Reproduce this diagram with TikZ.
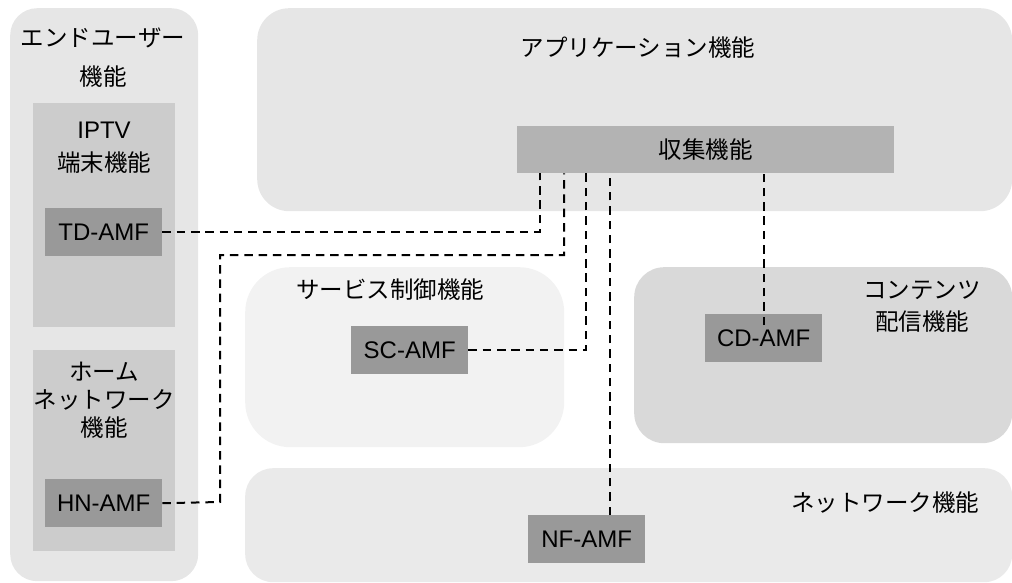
\documentclass[tikz,border=0pt]{standalone}
\usepackage{fontspec}
\setmainfont{Liberation Sans}
\newfontfamily\jp{Noto Sans CJK JP}
\definecolor{outergray}{HTML}{E6E6E6}
\definecolor{innergray}{HTML}{CCCCCC}
\definecolor{collectgray}{HTML}{B3B3B3}
\definecolor{amfgray}{HTML}{999999}
\definecolor{svcgray}{HTML}{F2F2F2}
\definecolor{cdngray}{HTML}{D9D9D9}
\definecolor{netgray}{HTML}{EAEAEA}
\tikzset{
  region/.style={draw=none, anchor=north west, inner sep=0pt},
  inner/.style={draw=none, anchor=north west, inner sep=0pt, fill=innergray},
  amf/.style={fill=amfgray, anchor=north west, inner sep=0pt, minimum width=117pt, minimum height=48pt, font=\fontsize{24}{28}\selectfont},
  lbl/.style={font=\jp\fontsize{23.5}{28}\selectfont, inner sep=0pt},
  lbllat/.style={font=\fontsize{24}{28}\selectfont, inner sep=0pt},
  link/.style={draw=black, line width=2pt, dash pattern=on 8.5pt off 5.8pt}
}
\begin{document}
\begin{tikzpicture}[x=1pt,y=-1pt]
\useasboundingbox (0,0) rectangle (1012,583);
% regions
\node[region, fill=outergray, rounded corners=27pt, minimum width=188pt, minimum height=573pt] (enduser) at (10,8) {};
\node[region, fill=outergray, rounded corners=32pt, minimum width=755pt, minimum height=203pt] (app) at (257,8) {};
\node[region, fill=svcgray, rounded corners=45pt, minimum width=319pt, minimum height=180pt] (svc) at (245,267) {};
\node[region, fill=cdngray, rounded corners=30pt, minimum width=378pt, minimum height=176pt] (cdn) at (634,267) {};
\node[region, fill=netgray, rounded corners=28pt, minimum width=767pt, minimum height=114pt] (net) at (245,468) {};
% inner boxes
\node[inner, minimum width=142pt, minimum height=224pt] (iptv) at (33,103) {};
\node[inner, minimum width=142pt, minimum height=201pt] (home) at (33,350) {};
\node[region, fill=collectgray, minimum width=377pt, minimum height=47pt, font=\jp\fontsize{23.5}{28}\selectfont] (collect) at (517,126) {収集機能};
% labels
\node[lbl] (eu1) at (103,38) {エンドユーザー};
\node[lbl] (eu2) at (103,77) {機能};
\node[lbllat] (ip1) at (104,130) {IPTV};
\node[lbl] (ip2) at (104,163) {端末機能};
\node[lbl] (hm1) at (104,372) {ホーム};
\node[lbl] (hm2) at (104,400) {ネットワーク};
\node[lbl] (hm3) at (104,428) {機能};
\node[lbl] (applbl) at (638,48) {アプリケーション機能};
\node[lbl] (svclbl) at (390,290) {サービス制御機能};
\node[lbl] (cdn1) at (922,290) {コンテンツ};
\node[lbl] (cdn2) at (922,322) {配信機能};
\node[lbl] (netlbl) at (885,503) {ネットワーク機能};
% AMF boxes
\node[amf] (td) at (45,208) {TD-AMF};
\node[amf] (hn) at (45,479) {HN-AMF};
\node[amf] (sc) at (351,326) {SC-AMF};
\node[amf] (cd) at (705,314) {CD-AMF};
\node[amf] (nf) at (528,515) {NF-AMF};
% connectors
\draw[link] (td.east) -| (collect.south -| 539.5,0);
\draw[link] (hn.east) -- (220,502) |- (564,255) -- (collect.south -| 564,0);
\draw[link] (sc.east) -| (collect.south -| 586,0);
\draw[link] (nf.north -| 610,0) -- (collect.south -| 610,0);
\draw[link] ([yshift=-11pt]cd.north -| 763.5,0) -- (collect.south -| 763.5,0);
\end{tikzpicture}
\end{document}
